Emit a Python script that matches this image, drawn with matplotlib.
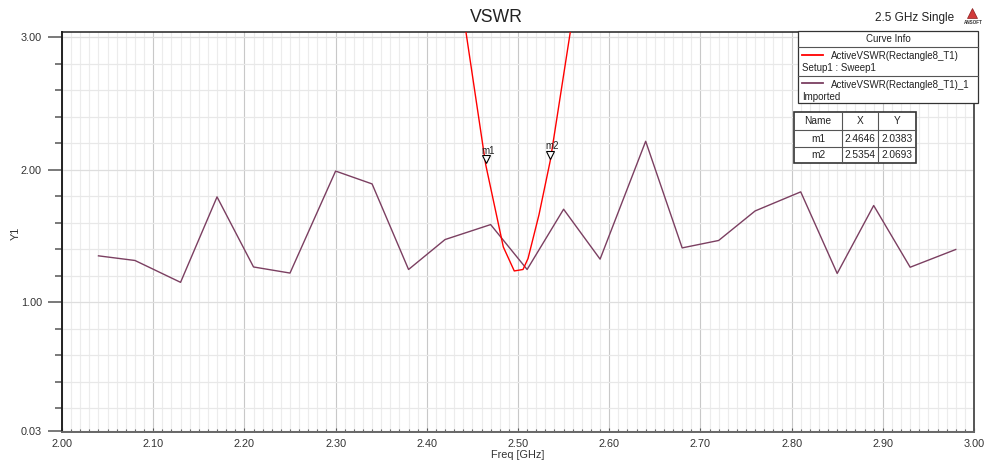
import matplotlib
matplotlib.use('Agg')
import matplotlib.pyplot as plt
from matplotlib.patches import Rectangle
from matplotlib.lines import Line2D
from matplotlib.ticker import FixedLocator, MultipleLocator

plt.rcParams['font.family'] = ['Liberation Sans', 'DejaVu Sans']

# ---------------- data ----------------
freq_imported = [2.04, 2.08, 2.13, 2.17, 2.21, 2.25, 2.30, 2.34, 2.38, 2.42, 2.47, 2.51,
                 2.55, 2.59, 2.64, 2.68, 2.72, 2.76, 2.81, 2.85, 2.89, 2.93, 2.98]
vswr_imported = [1.35, 1.315, 1.15, 1.795, 1.266, 1.22, 1.99, 1.893, 1.247, 1.473, 1.586, 1.247,
                 1.702, 1.325, 2.215, 1.41, 1.466, 1.689, 1.833, 1.217, 1.73, 1.264, 1.398]

freq_sim = [2.4425, 2.4646, 2.4839, 2.4959, 2.5055, 2.5110, 2.5230, 2.5354, 2.5578]
vswr_sim = [3.06, 2.0383, 1.417, 1.236, 1.247, 1.33, 1.66, 2.0693, 3.06]

marker_names = ['m1', 'm2']
marker_x = [2.4646, 2.5354]
marker_y = [2.0383, 2.0693]

x_ticks = [2.00, 2.10, 2.20, 2.30, 2.40, 2.50, 2.60, 2.70, 2.80, 2.90, 3.00]
y_ticks = [0.03, 1.00, 2.00, 3.00]

legend_names = ['ActiveVSWR(Rectangle8_T1)', 'ActiveVSWR(Rectangle8_T1)_1']
legend_sub = ['Setup1 : Sweep1', 'Imported']

# ---------------- figure ----------------
W, H = 984, 461
fig = plt.figure(figsize=(W / 100, H / 100), dpi=100)


def fx(x):
    return x / W


def fy(y):
    return 1 - y / H


ax = fig.add_axes([fx(62), fy(432), (974 - 62) / W, (432 - 32) / H])

RED = '#ff0000'
PURPLE = '#7b3f61'

ax.plot(freq_imported, vswr_imported, color=PURPLE, lw=1.0, zorder=3)
ax.plot(freq_sim, vswr_sim, color=RED, lw=1.0, zorder=4)

ax.set_xlim(2.0, 3.0)
ax.set_ylim(0.02, 3.04)

ax.xaxis.set_major_locator(FixedLocator(x_ticks))
ax.xaxis.set_minor_locator(MultipleLocator(0.01))
ax.yaxis.set_major_locator(FixedLocator(y_ticks))
ax.yaxis.set_minor_locator(MultipleLocator(0.2))
ax.set_xticklabels(['%.2f' % v for v in x_ticks])
ax.set_yticklabels(['%.2f' % v for v in y_ticks])

ax.grid(which='major', axis='x', color='#c8c8c8', lw=0.8, zorder=0)
ax.grid(which='minor', axis='x', color='#ececec', lw=0.8, zorder=0)
ax.grid(which='major', axis='y', color='#dedede', lw=0.9, zorder=0)
ax.grid(which='minor', axis='y', color='#e8e8e8', lw=0.9, zorder=0)
ax.set_axisbelow(True)

ax.tick_params(axis='x', which='major', direction='in', length=3, width=0.8, color='#555555',
               labelsize=7.8, labelcolor='#333333', pad=5)
ax.tick_params(axis='x', which='minor', direction='in', length=2, width=0.8, color='#555555')
ax.tick_params(axis='y', which='major', direction='out', length=10, width=1.1, color='#555555',
               labelsize=7.8, labelcolor='#333333', pad=4.5)
ax.tick_params(axis='y', which='minor', direction='out', length=5, width=1.1, color='#555555')

ax.spines['left'].set_color('#222222')
ax.spines['left'].set_linewidth(1.4)
ax.spines['top'].set_color('#222222')
ax.spines['top'].set_linewidth(1.1)
ax.spines['right'].set_color('#555555')
ax.spines['right'].set_linewidth(1.4)
ax.spines['bottom'].set_color('#666666')
ax.spines['bottom'].set_linewidth(1.4)

# markers
for name, mx, my in zip(marker_names, marker_x, marker_y):
    ax.annotate('', xy=(mx, my), xytext=(0, 0))
    ax.plot([mx], [my], linestyle='none', marker='v', markersize=5.5, markerfacecolor='white',
            markeredgecolor='black', markeredgewidth=0.8, zorder=6,
            transform=ax.transData + matplotlib.transforms.ScaledTranslation(0, 3.8 / 72, fig.dpi_scale_trans))
    ax.annotate(name, xy=(mx, my), xytext=(1.5, 10.2), textcoords='offset points',
                ha='center', va='center', fontsize=7, color='#222222', zorder=7)

# titles and labels
fig.text(fx(496), fy(18), 'VSWR', ha='center', va='center', fontsize=12.7, color='#222222')
fig.text(fx(914.5), fy(18), '2.5 GHz Single', ha='center', va='center', fontsize=8.5, color='#222222')
fig.text(fx(16), fy(233), 'Y1', rotation=90, ha='center', va='center', fontsize=7.8, color='#333333')
fig.text(fx(518), fy(455), 'Freq [GHz]', ha='center', va='center', fontsize=7.8, color='#333333')

# ANSOFT logo
fig.add_artist(Line2D([fx(972)], [fy(13)], marker='^', markersize=7, color='#d23a3a',
                      markeredgecolor='#8a1f1f', markeredgewidth=0.5, linestyle='none'))
fig.text(fx(973), fy(22), 'ANSOFT', ha='center', va='center', fontsize=3.3, color='#333333',
         fontweight='bold')

# Curve info legend box
fig.add_artist(Rectangle((fx(798), fy(103)), (978 - 798) / W, (103 - 31) / H,
                         facecolor='white', edgecolor='#333333', lw=0.9, zorder=10))
for yy in (46.7, 76):
    fig.add_artist(Line2D([fx(798), fx(978)], [fy(yy), fy(yy)], color='#555555', lw=0.8, zorder=11))
fig.text(fx(888), fy(39), 'Curve Info', ha='center', va='center', fontsize=7, color='#222222', zorder=12)
for i, (nm, sub, col) in enumerate(zip(legend_names, legend_sub, [RED, PURPLE])):
    y0 = 55 + i * 28.5
    fig.add_artist(Line2D([fx(802), fx(823)], [fy(y0), fy(y0)], color=col, lw=1.3, zorder=12))
    fig.text(fx(831), fy(y0 + 1), nm, ha='left', va='center', fontsize=7, color='#222222', zorder=12)
    fig.text(fx(802), fy(y0 + 13), sub, ha='left', va='center', fontsize=7, color='#222222', zorder=12)

# Marker table
tx0, tx1, ty0, ty1 = 794, 916, 112, 163
fig.add_artist(Rectangle((fx(tx0), fy(ty1)), (tx1 - tx0) / W, (ty1 - ty0) / H,
                         facecolor='white', edgecolor='#333333', lw=1.2, zorder=10))
for xx in (841.7, 878.3):
    fig.add_artist(Line2D([fx(xx), fx(xx)], [fy(ty0), fy(ty1)], color='#555555', lw=0.8, zorder=11))
for yy in (130, 146.7):
    fig.add_artist(Line2D([fx(tx0), fx(tx1)], [fy(yy), fy(yy)], color='#555555', lw=0.8, zorder=11))
col_c = [818, 860, 897]
rows = [['Name', 'X', 'Y']] + [[n, '%.4f' % x, '%.4f' % y] for n, x, y in zip(marker_names, marker_x, marker_y)]
row_c = [121, 138.5, 155]
for r, yc in zip(rows, row_c):
    for t, xc in zip(r, col_c):
        fig.text(fx(xc), fy(yc), t, ha='center', va='center', fontsize=7.3, color='#222222', zorder=12)

fig.savefig('out.png', dpi=100)
